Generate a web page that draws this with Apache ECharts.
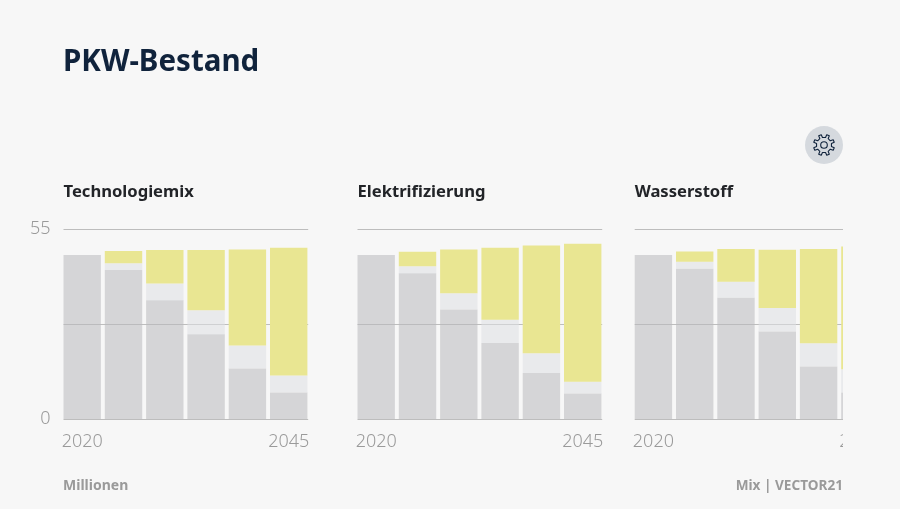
<!DOCTYPE html>
<html><head><meta charset="utf-8">
<style>html,body{margin:0;padding:0;background:#f7f7f7;overflow:hidden}#c{width:843px;height:509px}</style>
<script src="https://cdn.jsdelivr.net/npm/echarts@6/dist/echarts.min.js"></script>
</head><body><div id="c"></div>
<script>
const categories = ['2020','2025','2030','2035','2040','2045'];
const yTicks = [0, 55];
const panelNames = ['Technologiemix','Elektrifizierung','Wasserstoff'];
const mixGray = [47.5,43.1,34.4,24.5,14.6,7.7];
const mixLight = [0,2.0,4.8,7.0,6.7,4.9];
const mixYellow = [0,3.5,9.7,17.4,27.8,37.0];
const elekGray = [47.5,42.2,31.7,22.0,13.3,7.4];
const elekLight = [0,2.0,4.7,6.7,5.7,3.4];
const elekYellow = [0,4.2,12.7,20.9,31.2,39.9];
const wassGray = [47.5,43.5,35.1,25.3,15.2,7.7];
const wassLight = [0,2.0,4.6,6.8,6.7,6.7];
const wassYellow = [0,3.0,9.5,16.9,27.3,35.5];

const panelData = [[mixGray,mixLight,mixYellow],[elekGray,elekLight,elekYellow],[wassGray,wassLight,wassYellow]];
const lefts = [63.5,357.5,634.7];
const plotW = 244.7, step = 41.3, gridTop = 229, gridBottom = 509-419;
const FONT = '"Noto Sans", sans-serif';
const fills = ['rgba(185,186,189,0.55)','rgba(222,224,227,0.55)','#e9e692'];
const grid=[],xAxis=[],yAxis=[],series=[],graphic=[];

panelData.forEach((vals,p)=>{
  const L = lefts[p];
  const gi = grid.length;
  grid.push({left:L,width:plotW,top:gridTop,bottom:gridBottom,outerBoundsMode:'none'});
  xAxis.push({gridIndex:gi,type:'value',show:false,min:0,max:1});
  yAxis.push({gridIndex:gi,type:'value',min:0,max:55,interval:27.5,
    axisLine:{show:false},axisTick:{show:false},
    splitLine:{show:true,lineStyle:{color:'#bdbdbd',width:1}},
    axisLabel:{show:p===0,margin:13,padding:[2,0,0,0],fontFamily:FONT,fontWeight:300,fontSize:18,color:'#9a9a9a',
      formatter:v=>yTicks.includes(v)?String(v):''}});
  const bandW = step*6;
  grid.push({left:L-(step-37.4)/2,width:bandW,top:gridTop,bottom:gridBottom,outerBoundsMode:'none'});
  xAxis.push({gridIndex:gi+1,type:'category',data:categories,
    axisLine:{show:false},axisTick:{show:false},
    axisLabel:{margin:14,interval:0,fontFamily:FONT,fontWeight:300,fontSize:18,color:'#9a9a9a',hideOverlap:false,
      formatter:(v,i)=>(i===0||i===categories.length-1)?v:''}});
  yAxis.push({gridIndex:gi+1,type:'value',min:0,max:55,show:false,splitLine:{show:false}});
  vals.forEach((d,k)=>series.push({type:'bar',xAxisIndex:gi+1,yAxisIndex:gi+1,stack:'p'+p,
    barWidth:37.4,data:d,itemStyle:{color:fills[k]},silent:true,animation:false}));
  graphic.push({type:'text',left:L,top:183.5,style:{text:panelNames[p],fontFamily:FONT,fontWeight:700,fontSize:16.6,fill:'#222428'}});
});

graphic.push({type:'text',left:63,top:48,style:{text:'PKW-Bestand',fontFamily:FONT,fontWeight:700,fontSize:29.5,fill:'#10233c'}});
graphic.push({type:'text',left:63,top:479,style:{text:'Millionen',fontFamily:FONT,fontWeight:700,fontSize:14,fill:'#9a9a9a'}});
graphic.push({type:'text',right:0,top:479,style:{text:'Mix | VECTOR21',fontFamily:FONT,fontWeight:700,fontSize:13.6,fill:'#9a9a9a'}});
graphic.push({type:'circle',shape:{cx:824,cy:145,r:19},style:{fill:'#d5d9de'}});
// settings icon: eight-toothed gear outline with a centre ring
const gearPts=[];
for(let i=0;i<8;i++){
  const a=i*Math.PI/4-Math.PI/8;
  [[-0.19,7.6],[-0.13,10.6],[0.13,10.6],[0.19,7.6]].forEach(([da,r])=>gearPts.push([824+r*Math.cos(a+da),145+r*Math.sin(a+da)]));
}
graphic.push({type:'polygon',shape:{points:gearPts},style:{fill:'none',stroke:'#10233c',lineWidth:1.1,lineJoin:'round'}});
graphic.push({type:'circle',shape:{cx:824,cy:145,r:3.3},style:{fill:'none',stroke:'#10233c',lineWidth:1.1}});

const chart = echarts.init(document.getElementById('c'),null,{renderer:'canvas'});
chart.setOption({animation:false,backgroundColor:'#f7f7f7',grid,xAxis,yAxis,series,graphic});
</script></body></html>
